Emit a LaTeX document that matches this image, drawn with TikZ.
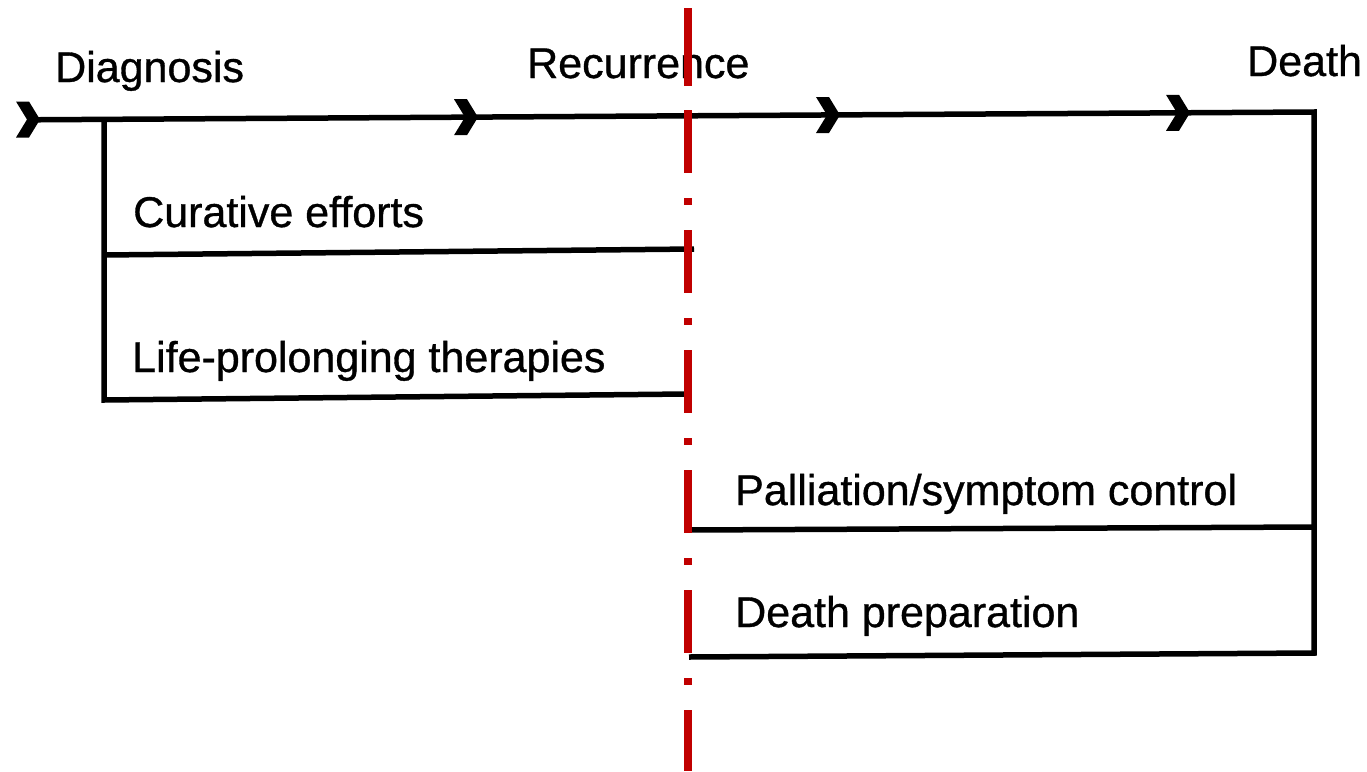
\documentclass[tikz,border=0pt]{standalone}
\usepackage{fontspec}
\setmainfont{Liberation Sans}
\newfontfamily\lblfont{Liberation Sans}[FakeBold=0.8]
\definecolor{redline}{HTML}{C00000}
\tikzset{
  lbl/.style={anchor=base west, inner sep=0pt, font=\lblfont\fontsize{43}{50}\selectfont},
  blk/.style={line width=5.5pt, line join=miter, line cap=butt},
  chev/.pic={\fill[black] (-24,-18) -- (-11,-18) -- (0,0) -- (-11,18) -- (-24,18) -- (-13,0) -- cycle;},
  redpart/.style={redline, line width=8pt, line cap=butt}
}
\begin{document}
\begin{tikzpicture}[x=1pt,y=-1pt]
\useasboundingbox (0,0) rectangle (1367,771);
% labels
\node[lbl] (diag) at (55,82) {Diagnosis};
\node[lbl] (recur) at (527,78) {Recurrence};
\node[lbl] (death) at (1247,76) {Death};
\node[lbl] (cur) at (133,227) {Curative efforts};
\node[lbl] (life) at (132,372) {Life-prolonging therapies};
\node[lbl] (pall) at (735,505) {Palliation/symptom control};
\node[lbl] (prep) at (735,627) {Death preparation};
% key points
\coordinate (start) at (32,119.8);
\coordinate (corner) at (1314,112);
\coordinate (lefttop) at (104,119.4);
\coordinate (leftbot) at (104,400);
\coordinate (curL) at (104,255);
\coordinate (curR) at (694,249);
\coordinate (lifeR) at (686,394);
\coordinate (rightbot) at (1314,653);
\coordinate (prepL) at (689,657);
\coordinate (pallL) at (689,530);
\coordinate (pallR) at (1314,527);
\coordinate (redtop) at (688,8);
\coordinate (redbreak) at (688,86);
\coordinate (redmid) at (688,110);
\coordinate (redbot) at (688,771);
% main timeline and right bracket
\draw[blk] (start) -- (corner) -- (rightbot) -- (prepL);
\draw[blk] (pallL) -- (pallR);
% left bracket
\draw[blk] (lefttop) -- (leftbot) -- (lifeR);
\draw[blk] (curL) -- (curR);
% chevrons
\pic at (40,119.5) {chev};
\pic at (478,117.2) {chev};
\pic at (840,115) {chev};
\pic at (1190,112.8) {chev};
% red dash-dot line
\draw[redpart] (redtop) -- (redbreak);
\draw[redpart, dash pattern=on 63pt off 25pt on 7pt off 25pt] (redmid) -- (redbot);
\end{tikzpicture}
\end{document}
